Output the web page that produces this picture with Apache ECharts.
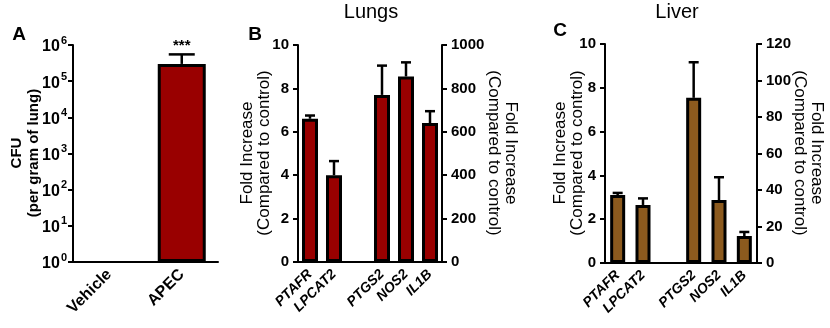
<!DOCTYPE html>
<html><head><meta charset="utf-8">
<script src="https://cdn.jsdelivr.net/npm/echarts@6/dist/echarts.min.js"></script>
<style>html,body{margin:0;padding:0;background:#fff}#c{width:830px;height:328px}</style>
</head><body><div id="c"></div>
<script>
// ---- data ----
const cfuCategories = ['Vehicle', 'APEC'];
const cfuMean = [null, 3.0e5];
const cfuErrTop = [null, 5.5e5];
const cfuSignificance = ['', '***'];

const geneCategories = ['PTAFR', 'LPCAT2', '', 'PTGS2', 'NOS2', 'IL1B'];
const lungLeftMean  = [6.6, 4.0, null, null, null, null];
const lungLeftErr   = [6.75, 4.65, null, null, null, null];
const lungRightMean = [null, null, null, 770, 855, 640];
const lungRightErr  = [null, null, null, 905, 920, 695];
const liverLeftMean  = [3.1, 2.65, null, null, null, null];
const liverLeftErr   = [3.2, 2.95, null, null, null, null];
const liverRightMean = [null, null, null, 90.5, 34.5, 14.8];
const liverRightErr  = [null, null, null, 110, 47, 17];

const lungLeftAxis = {min: 0, max: 10, interval: 2};
const lungRightAxis = {min: 0, max: 1000, interval: 200};
const liverLeftAxis = {min: 0, max: 10, interval: 2};
const liverRightAxis = {min: 0, max: 120, interval: 20};

// ---- styles ----
const FONT = '"Liberation Sans", Arial, sans-serif';
const RED = '#990000';
const BROWN = '#8C5A1E';
const axisLineStyle = {color: '#000', width: 2};

function errData(mean, err, sig) {
  const out = [];
  mean.forEach((m, i) => { if (m != null) out.push([i, m, err[i], sig ? sig[i] : '']); });
  return out;
}
function errRender(capHalf) {
  return function (params, api) {
    const i = api.value(0);
    const base = api.coord([i, api.value(1)]);
    const top = api.coord([i, api.value(2)]);
    const sig = api.value(3);
    const children = [
      {type: 'line', shape: {x1: base[0], y1: base[1], x2: top[0], y2: top[1]}, style: {stroke: '#000', lineWidth: 2.5}},
      {type: 'line', shape: {x1: top[0] - capHalf, y1: top[1], x2: top[0] + capHalf, y2: top[1]}, style: {stroke: '#000', lineWidth: 2.5}}
    ];
    if (sig) children.push({type: 'text', x: top[0], y: top[1] - 1, style: {text: sig, align: 'center', verticalAlign: 'bottom', font: 'bold 15px ' + FONT, fill: '#000'}});
    return {type: 'group', children};
  };
}
function catAxis(gridIndex, data, fontSize, italic) {
  return {
    gridIndex, type: 'category', data,
    axisLine: {lineStyle: axisLineStyle},
    axisTick: {alignWithLabel: true, length: 6, lineStyle: {color: '#000', width: 2}},
    axisLabel: {rotate: 45, margin: 10, interval: 0, color: '#000', fontFamily: FONT, fontWeight: 'bold', fontStyle: italic ? 'italic' : 'normal', fontSize}
  };
}
function valAxis(gridIndex, cfg, position) {
  return {
    gridIndex, type: 'value', position, min: cfg.min, max: cfg.max, interval: cfg.interval,
    axisLine: {show: true, lineStyle: axisLineStyle},
    axisTick: {show: true, length: 5, lineStyle: {color: '#000', width: 2}},
    splitLine: {show: false},
    axisLabel: {margin: 9, color: '#000', fontFamily: FONT, fontWeight: 'bold', fontSize: 15, formatter: v => String(v)}
  };
}
function barSeries(xi, yi, data, color, width) {
  return {type: 'bar', xAxisIndex: xi, yAxisIndex: yi, data, barWidth: width, barGap: '-100%',
    itemStyle: {color, borderColor: '#000', borderWidth: 3}, silent: true};
}
function errSeries(xi, yi, mean, err, cap, sig) {
  return {type: 'custom', xAxisIndex: xi, yAxisIndex: yi, data: errData(mean, err, sig),
    renderItem: errRender(cap), encode: {x: 0, y: [1, 2]}, z: 5, silent: true};
}
function vtext(x, y, lines, rot, font) {
  return {type: 'text', x, y, rotation: rot, style: {text: lines, align: 'center', verticalAlign: 'middle', font, lineHeight: 17, fill: '#000'}};
}

const option = {
  animation: false,
  backgroundColor: '#fff',
  grid: [
    {left: 73, top: 45, width: 145, height: 217, outerBoundsMode: 'none'},
    {left: 298, top: 45, width: 144, height: 217, outerBoundsMode: 'none'},
    {left: 605, top: 44, width: 152, height: 219, outerBoundsMode: 'none'}
  ],
  xAxis: [
    catAxis(0, cfuCategories, 16, false),
    catAxis(1, geneCategories, 14, true),
    catAxis(2, geneCategories, 14, true)
  ],
  yAxis: [
    {
      gridIndex: 0, type: 'log', logBase: 10, min: 1, max: 1e6,
      axisLine: {show: true, lineStyle: axisLineStyle},
      axisTick: {show: true, length: 5, lineStyle: {color: '#000', width: 2}},
      splitLine: {show: false}, minorTick: {show: false},
      axisLabel: {
        margin: 6, color: '#000',
        formatter: v => '{b|10}{s|' + Math.round(Math.log10(v)) + '}',
        rich: {
          b: {fontFamily: FONT, fontWeight: 'bold', fontSize: 16, color: '#000', verticalAlign: 'bottom', lineHeight: 20},
          s: {fontFamily: FONT, fontWeight: 'bold', fontSize: 11, color: '#000', verticalAlign: 'top', lineHeight: 20, padding: [0, 0, 7, 1]}
        }
      }
    },
    valAxis(1, lungLeftAxis, 'left'),
    valAxis(1, lungRightAxis, 'right'),
    valAxis(2, liverLeftAxis, 'left'),
    valAxis(2, liverRightAxis, 'right')
  ],
  series: [
    barSeries(0, 0, cfuMean, RED, 48),
    errSeries(0, 0, cfuMean, cfuErrTop, 13, cfuSignificance),
    barSeries(1, 1, lungLeftMean, RED, 16),
    barSeries(1, 2, lungRightMean, RED, 16),
    errSeries(1, 1, lungLeftMean, lungLeftErr, 5),
    errSeries(1, 2, lungRightMean, lungRightErr, 5),
    barSeries(2, 3, liverLeftMean, BROWN, 15),
    barSeries(2, 4, liverRightMean, BROWN, 15),
    errSeries(2, 3, liverLeftMean, liverLeftErr, 5),
    errSeries(2, 4, liverRightMean, liverRightErr, 5)
  ],
  graphic: [
    {type: 'text', x: 19, y: 35, style: {text: 'A', align: 'center', verticalAlign: 'middle', font: 'bold 19px ' + FONT, fill: '#000'}},
    {type: 'text', x: 255, y: 35, style: {text: 'B', align: 'center', verticalAlign: 'middle', font: 'bold 19px ' + FONT, fill: '#000'}},
    {type: 'text', x: 560, y: 31, style: {text: 'C', align: 'center', verticalAlign: 'middle', font: 'bold 19px ' + FONT, fill: '#000'}},
    {type: 'text', x: 371, y: 12, style: {text: 'Lungs', align: 'center', verticalAlign: 'middle', font: '20px ' + FONT, fill: '#000'}},
    {type: 'text', x: 677, y: 12, style: {text: 'Liver', align: 'center', verticalAlign: 'middle', font: '20px ' + FONT, fill: '#000'}},
    vtext(25, 153, 'CFU\n(per gram of lung)', Math.PI / 2, 'bold 15px ' + FONT),
    vtext(256, 153, 'Fold Increase\n(Compared to control)', Math.PI / 2, '17px ' + FONT),
    vtext(502, 153, 'Fold Increase\n(Compared to control)', -Math.PI / 2, '17px ' + FONT),
    vtext(569, 153, 'Fold Increase\n(Compared to control)', Math.PI / 2, '17px ' + FONT),
    vtext(808, 153, 'Fold Increase\n(Compared to control)', -Math.PI / 2, '17px ' + FONT)
  ]
};
const chart = echarts.init(document.getElementById('c'), null, {renderer: 'canvas'});
chart.setOption(option);
</script>
</body></html>
